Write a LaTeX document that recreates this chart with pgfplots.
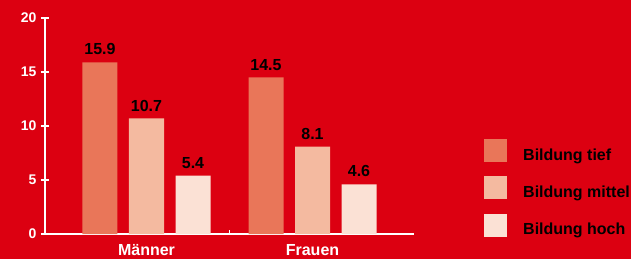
\documentclass[border=0pt]{standalone}
\usepackage{fontspec}
\setmainfont{Liberation Sans}
\usepackage{pgfplots}
\pgfplotsset{compat=1.18}
\definecolor{bg}{HTML}{DC0011}
\definecolor{c1}{HTML}{E97659}
\definecolor{c2}{HTML}{F4BAA0}
\definecolor{c3}{HTML}{FBE1D5}
\begin{document}
\begin{tikzpicture}[x=1bp,y=1bp]
\useasboundingbox (0,0) rectangle (631,259);
\fill[bg] (0,0) rectangle (631,259);
\clip (0,0) rectangle (631,259);
\begin{axis}[
  at={(45bp,25bp)}, anchor=south west,
  scale only axis, width=369bp, height=216bp,
  xmin=-0.6114, xmax=1.6114, ymin=0, ymax=20,
  axis lines*=left,
  xtick pos=left, ytick pos=left,
  axis line style={white, line width=1.2bp},
  x axis line style={shorten <=-4bp},
  tick style={white, line width=1.2bp},
  tick align=center, major tick length=8bp,
  ytick={0,5,10,15,20},
  xtick={0,1}, xticklabels={Männer,Frauen},
  xtick style={draw=none},
  extra x ticks={0.5}, extra x tick labels={},
  extra x tick style={xtick style={draw=white}, tick align=inside, major tick length=4bp},
  /pgf/number format/assume math mode=true,
  yticklabel style={white, font=\fontsize{14bp}{16bp}\selectfont\bfseries, xshift=-1bp},
  xticklabel style={white, font=\fontsize{16bp}{18bp}\selectfont\bfseries, yshift=1bp, text depth=0pt},
  ybar=11.5bp, bar width=35bp,
  nodes near coords,
  nodes near coords style={/pgf/number format/fixed, /pgf/number format/precision=1, /pgf/number format/fixed zerofill},
  every node near coord/.append style={black, font=\fontsize{16bp}{18bp}\selectfont\bfseries, anchor=south, inner sep=0pt, yshift=7bp},
  clip=false,
  legend image code/.code={\fill[#1] (0bp,-4bp) rectangle (23bp,19bp); \path (39bp,0bp);},
  legend cell align=left,
  legend style={draw=none, fill=none, inner sep=0pt, at={(1.1897,0.4398)}, anchor=north west,
    font=\fontsize{16bp}{18bp}\selectfont\bfseries, text=black,
    nodes={inner sep=0pt}, row sep=8.5bp},
]
\addplot[fill=c1, draw=none] coordinates {(0,15.9) (1,14.5)};
\addplot[fill=c2, draw=none] coordinates {(0,10.7) (1,8.1)};
\addplot[fill=c3, draw=none] coordinates {(0,5.4) (1,4.6)};
\legend{\raisebox{6.5bp}{Bildung tief}, \raisebox{6.5bp}{Bildung mittel}, \raisebox{6.5bp}{Bildung hoch}}
\end{axis}
\end{tikzpicture}
\end{document}
